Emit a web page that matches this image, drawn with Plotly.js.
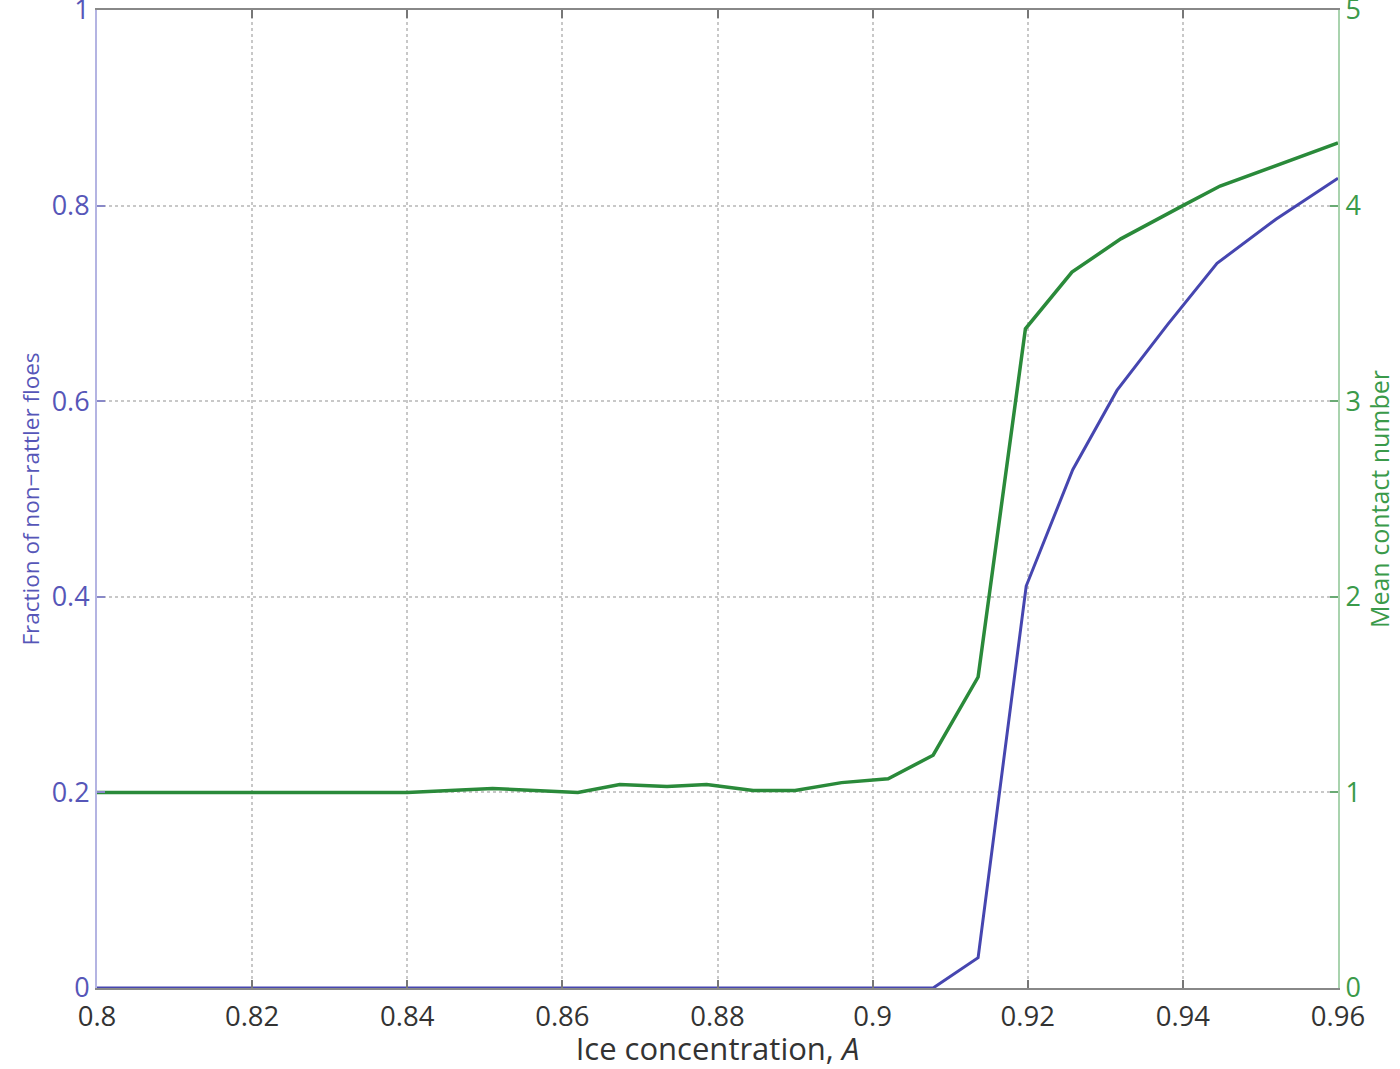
<!DOCTYPE html>
<html>
<head>
<meta charset="utf-8">
<script src="https://cdn.plot.ly/plotly-3.0.1.min.js"></script>
<style>
  html, body { margin: 0; padding: 0; background: #fff; }
  #chart { width: 1400px; height: 1069px; }
</style>
</head>
<body>
<div id="chart"></div>
<script>
// Fraction of non-rattler floes (left axis)
const fractionA = [0.8, 0.86, 0.9078, 0.9136, 0.9198, 0.9258, 0.9315, 0.938, 0.9444, 0.952, 0.96];
const fractionVals = [0, 0, 0, 0.031, 0.411, 0.53, 0.611, 0.678, 0.741, 0.786, 0.828];

// Mean contact number (right axis)
const contactA = [0.8, 0.84, 0.851, 0.862, 0.8674, 0.8735, 0.8786, 0.8846, 0.890, 0.896, 0.902,
                  0.9078, 0.9136, 0.9197, 0.9257, 0.932, 0.94, 0.9448, 0.96];
const contactVals = [1.0, 1.0, 1.02, 1.0, 1.04, 1.03, 1.04, 1.01, 1.01, 1.05, 1.07,
                     1.19, 1.59, 3.37, 3.66, 3.83, 4.0, 4.10, 4.32];

const xTicks = [0.8, 0.82, 0.84, 0.86, 0.88, 0.9, 0.92, 0.94, 0.96];
const xTickText = ['0.8', '0.82', '0.84', '0.86', '0.88', '0.9', '0.92', '0.94', '0.96'];
const leftTicks = [0, 0.2, 0.4, 0.6, 0.8, 1];
const leftTickText = ['0', '0.2', '0.4', '0.6', '0.8', '1'];
const rightTicks = [0, 1, 2, 3, 4, 5];
const rightTickText = ['0', '1', '2', '3', '4', '5'];

const blue = '#4646b0';
const green = '#2a8a3a';
const font = 'Open Sans, sans-serif';

const traces = [
    {
        x: fractionA, y: fractionVals, type: 'scatter', mode: 'lines',
        line: { color: blue, width: 3 }, yaxis: 'y', hoverinfo: 'skip', cliponaxis: false
    },
    {
        x: contactA, y: contactVals, type: 'scatter', mode: 'lines',
        line: { color: green, width: 3.5 }, yaxis: 'y2', hoverinfo: 'skip', cliponaxis: false
    }
];

const layout = {
    width: 1400,
    height: 1069,
    showlegend: false,
    paper_bgcolor: '#fff',
    plot_bgcolor: '#fff',
    margin: { l: 97, r: 62, t: 10, b: 81 },
    font: { family: font, size: 26, color: '#333' },
    xaxis: {
        range: [0.8, 0.96],
        tickvals: xTicks,
        ticktext: xTickText,
        ticks: 'inside', ticklen: 8, tickwidth: 2, tickcolor: '#777',
        ticklabelstandoff: 3,
        showline: true, linecolor: '#888', linewidth: 2, mirror: 'ticks',
        showgrid: true, gridcolor: '#c8c8c8', gridwidth: 2, griddash: 'dot',
        zeroline: false,
        tickfont: { family: font, size: 27.5, color: '#333' },
        title: {
            text: 'Ice concentration, <i>A</i>',
            font: { family: font, size: 31, color: '#333' },
            standoff: 4
        }
    },
    yaxis: {
        range: [0, 1],
        tickvals: leftTicks,
        ticktext: leftTickText,
        ticklabeloverflow: 'allow',
        ticks: 'inside', ticklen: 8, tickwidth: 2, tickcolor: '#8888c8',
        showline: true, linecolor: '#b4b4e2', linewidth: 2,
        showgrid: true, gridcolor: '#c8c8c8', gridwidth: 2, griddash: 'dot',
        zeroline: false,
        tickfont: { family: font, size: 27, color: '#5656b8' },
        title: {
            text: 'Fraction of non\u2212rattler floes',
            font: { family: font, size: 22.5, color: '#5656b8' },
            standoff: 6
        }
    },
    yaxis2: {
        overlaying: 'y',
        side: 'right',
        range: [0, 5],
        tickvals: rightTicks,
        ticktext: rightTickText,
        ticklabeloverflow: 'allow',
        ticks: 'inside', ticklen: 8, tickwidth: 2, tickcolor: '#6aaa74',
        showline: true, linecolor: '#a9d3ae', linewidth: 2,
        showgrid: false,
        zeroline: false,
        tickfont: { family: font, size: 27, color: '#3a9a4a' },
        title: {
            text: 'Mean contact number',
            font: { family: font, size: 25, color: '#3a9a4a' },
            standoff: 12
        }
    }
};

Plotly.newPlot('chart', traces, layout, { staticPlot: true });
</script>
</body>
</html>
